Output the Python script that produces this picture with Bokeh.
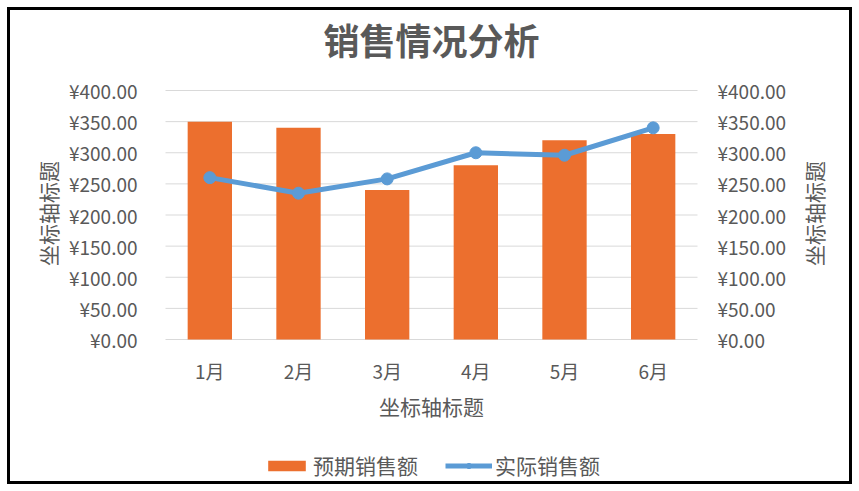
from bokeh.plotting import figure
from bokeh.models import Range1d, Label, Legend, LegendItem
from bokeh.embed import file_html
from bokeh.resources import INLINE
from bokeh.core.properties import value
import math

months = ["1月", "2月", "3月", "4月", "5月", "6月"]
expected_sales = [350, 340, 240, 280, 320, 330]
actual_sales = [260, 235, 258, 300, 296, 340]
y_ticks = [0, 50, 100, 150, 200, 250, 300, 350, 400]
y_tick_labels = ["¥%.2f" % t for t in y_ticks]
title_text = "销售情况分析"
axis_title = "坐标轴标题"
series_names = ["预期销售额", "实际销售额"]

FONT = "Noto Sans CJK SC"
GRAY = "#595959"
ORANGE = "#EC6F2E"
BLUE = "#5B9BD5"
W, H = 859, 491

# plot area in page pixels
PL, PR, PT, PB = 165, 697, 90, 339
ncat = len(months)
cat_px = (PR - PL) / ncat
val_px = (PB - PT) / max(y_ticks)

def xd(px):  # page x pixel -> data x
    return (px - PL) / cat_px

def yd(py):  # page y pixel (from top) -> data y
    return (PB - py) / val_px

p = figure(width=W, height=H, x_range=Range1d(xd(0), xd(W)), y_range=Range1d(yd(H), yd(0)),
           x_axis_type=None, y_axis_type=None, output_backend="svg", toolbar_location=None,
           min_border=0)
p.min_border_left = p.min_border_right = p.min_border_top = p.min_border_bottom = 0
p.outline_line_color = None
p.background_fill_alpha = 0
p.border_fill_alpha = 0
p.grid.visible = False
p.styles = {"outline": "3px solid black", "outline-offset": "-10px", "background-color": "white"}

xs = [i + 0.5 for i in range(ncat)]

# grid lines
p.segment(x0=[0] * len(y_ticks), x1=[ncat] * len(y_ticks), y0=y_ticks, y1=y_ticks,
          line_color="#d9d9d9", line_width=1)

bars = p.vbar(x=xs, top=expected_sales, width=0.5, fill_color=ORANGE, line_color=None)
ln = p.line(x=xs, y=actual_sales, line_color=BLUE, line_width=5)
pts = p.scatter(x=xs, y=actual_sales, size=12, fill_color=BLUE, line_color=BLUE)

# y tick labels, left and right
p.text(x=[xd(137)] * len(y_ticks), y=y_ticks, text=y_tick_labels, text_align="right",
       text_baseline="middle", text_font=value(FONT), text_font_size="19px", text_color=GRAY)
p.text(x=[xd(717)] * len(y_ticks), y=y_ticks, text=y_tick_labels, text_align="left",
       text_baseline="middle", text_font=value(FONT), text_font_size="19px", text_color=GRAY)
# x tick labels
p.text(x=xs, y=[yd(370)] * ncat, text=months, text_align="center", text_baseline="middle",
       text_font=value(FONT), text_font_size="19px", text_color=GRAY)

def lab(text, px, py, size, angle=0, bold=False):
    p.add_layout(Label(x=xd(px), y=yd(py), text=text, text_font=FONT, text_font_size=size,
                       text_color=GRAY, text_align="center", text_baseline="middle", angle=angle,
                       text_font_style="bold" if bold else "normal"))

lab(title_text, 431, 38, "36px", bold=True)
lab(axis_title, 431, 405, "21px")
lab(axis_title, 47, 213, "21px", angle=math.pi / 2)
lab(axis_title, 813, 213, "21px", angle=math.pi / 2)

legend = Legend(items=[LegendItem(label=series_names[0], renderers=[bars]),
                       LegendItem(label=series_names[1], renderers=[ln, pts])],
                orientation="horizontal", location=(263, 11),
                label_text_font=FONT, label_text_font_size="21px", label_text_color=GRAY,
                glyph_width=47, glyph_height=13, label_standoff=3, spacing=27,
                padding=0, margin=0, border_line_color=None, background_fill_alpha=0)
p.add_layout(legend, "center")

open("out.html", "w").write(file_html(p, INLINE))
